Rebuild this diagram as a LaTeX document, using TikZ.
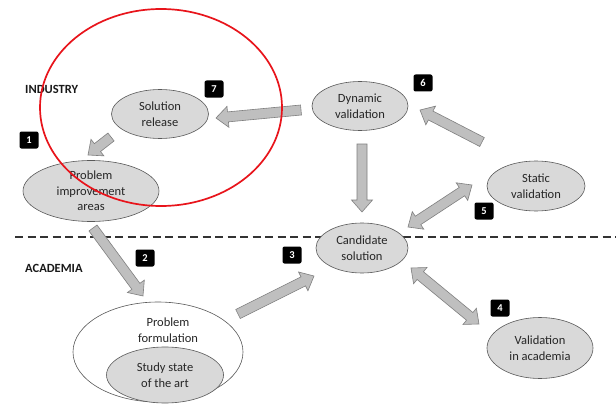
\documentclass[tikz,border=0pt]{standalone}
\usepackage{fontspec}
\setmainfont{Carlito}
\usetikzlibrary{shapes.geometric,calc}
\definecolor{nodefill}{HTML}{D9D9D9}
\definecolor{nodeline}{HTML}{595959}
\definecolor{arrowfill}{HTML}{BFBFBF}
\definecolor{arrowline}{HTML}{7F7F7F}
\definecolor{ringred}{HTML}{E8141B}
\definecolor{inktext}{HTML}{262626}
\tikzset{
  stage/.style={ellipse, draw=nodeline, fill=nodefill, line width=0.6pt, inner sep=0pt,
    align=center, text=inktext, font=\fontsize{12.5}{15.5}\selectfont},
  badge/.style={fill=black, text=white, rounded corners=2pt, minimum width=19pt,
    minimum height=17pt, inner sep=0pt, font=\bfseries\fontsize{10.5}{10.5}\selectfont},
  region/.style={anchor=west, inner sep=0pt, text=black!90, font=\bfseries\fontsize{12.5}{12.5}\selectfont},
  blockshape/.style={fill=arrowfill, draw=arrowline, line width=0.6pt, line join=miter},
}
% single-headed block arrow from #1 to #2
\newcommand\blockarrow[2]{%
  \path[blockshape] let \p1=($(#2)-(#1)$), \n1={atan2(\y1,\x1)}, \n2={veclen(\x1,\y1)} in
    [shift={(#1)}, rotate=\n1]
    (0,-5) -- (\n2-12,-5) -- (\n2-12,-10.5) -- (\n2,0) -- (\n2-12,10.5) -- (\n2-12,5) -- (0,5) -- cycle;}
% double-headed block arrow between #1 and #2
\newcommand\dblarrow[2]{%
  \path[blockshape] let \p1=($(#2)-(#1)$), \n1={atan2(\y1,\x1)}, \n2={veclen(\x1,\y1)} in
    [shift={(#1)}, rotate=\n1]
    (0,0) -- (12,-10.5) -- (12,-5) -- (\n2-12,-5) -- (\n2-12,-10.5) -- (\n2,0)
    -- (\n2-12,10.5) -- (\n2-12,5) -- (12,5) -- (12,10.5) -- cycle;}
\begin{document}
\begin{tikzpicture}[x=1pt, y=-1pt]
\useasboundingbox[fill=white] (0,0) rectangle (616,404);

% boundary between industry and academia
\coordinate (lineL) at (15,237);
\coordinate (lineR) at (616,237);
\draw[black!80, line width=1.1pt, dash pattern=on 8pt off 4.5pt] (lineL) -- (lineR);

\node[region] (industry) at (25,89) {INDUSTRY};
\node[region] (academia) at (25,268) {ACADEMIA};

% stages
\node[stage, minimum width=97pt, minimum height=49pt] (release) at (160,114) {Solution\\release};
\node[stage, minimum width=136pt, minimum height=61pt] (improve) at (91,191) {Problem\\improvement\\areas};
\node[stage, minimum width=96pt, minimum height=49pt] (dynamic) at (360,106) {Dynamic\\validation};
\node[stage, minimum width=98pt, minimum height=50pt] (static) at (536,186) {Static\\validation};
\node[stage, minimum width=92pt, minimum height=50pt] (candidate) at (362,248) {Candidate\\solution};
\node[stage, minimum width=106pt, minimum height=61pt] (vacad) at (540,348) {Validation\\in academia};
\node[stage, fill=white, minimum width=170pt, minimum height=100pt] (formulation) at (158,352) {};
\node[align=center, text=inktext, font=\fontsize{12.5}{15.5}\selectfont] (formtext) at (168,330) {Problem\\formulation};
\node[stage, minimum width=117pt, minimum height=56pt] (stateart) at (165,375) {Study state\\of the art};

% step numbers
\node[badge] (b1) at (29,140) {1};
\node[badge] (b2) at (145,258) {2};
\node[badge] (b3) at (292,255) {3};
\node[badge] (b4) at (500,308) {4};
\node[badge] (b5) at (484,211) {5};
\node[badge] (b6) at (423,83) {6};
\node[badge] (b7) at (214,89) {7};

% arrow ends
\coordinate (a7s) at (301,110);  \coordinate (a7e) at (216,118);
\coordinate (a1s) at (111,137);  \coordinate (a1e) at (88,155);
\coordinate (a2s) at (93,228);   \coordinate (a2e) at (143,296);
\coordinate (a3s) at (238,314);  \coordinate (a3e) at (314,276);
\coordinate (a4s) at (411,268);  \coordinate (a4e) at (479,324);
\coordinate (a5s) at (408,227);  \coordinate (a5e) at (472,185);
\coordinate (a6s) at (482,142);  \coordinate (a6e) at (420,110);
\coordinate (ads) at (362,144);  \coordinate (ade) at (362,212);

\blockarrow{a7s}{a7e}
\blockarrow{a1s}{a1e}
\blockarrow{a2s}{a2e}
\blockarrow{a3s}{a3e}
\dblarrow{a4s}{a4e}
\dblarrow{a5s}{a5e}
\blockarrow{a6s}{a6e}
\blockarrow{ads}{ade}

% highlighted region
\draw[ringred, line width=1.7pt] (161,107.5) ellipse [x radius=121, y radius=98.5];
\end{tikzpicture}
\end{document}
